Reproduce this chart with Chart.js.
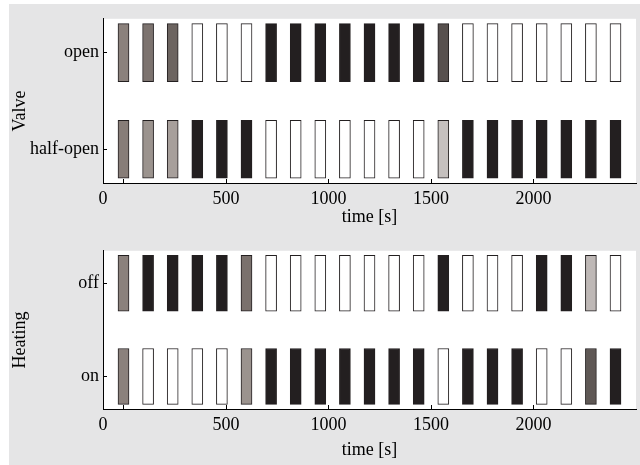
<!DOCTYPE html>
<html>
<head>
<meta charset="utf-8">
<script src="https://cdn.jsdelivr.net/npm/chart.js@4.4.0/dist/chart.umd.min.js"></script>
<style>
  body { margin: 0; background: #fff; }
  #wrap { position: relative; width: 640px; height: 465px; overflow: hidden; }
  #bg { position: absolute; left: 9px; top: 4px; right: 0; bottom: 0; background: #e5e5e6; }
  canvas { position: absolute; left: 0; }
</style>
</head>
<body>
<div id="wrap">
  <div id="bg"></div>
  <canvas id="valveChart" width="640" height="232" style="top:0"></canvas>
  <canvas id="heatingChart" width="640" height="233" style="top:232px"></canvas>
</div>
<script>
// Sample times of the bars [s]
const times = [0, 120, 240, 360, 480, 600, 720, 840, 960, 1080, 1200,
               1320, 1440, 1560, 1680, 1800, 1920, 2040, 2160, 2280, 2400];

// Shade of each bar (0 = white, 1 = black)
const valveOpen = [0.5, 0.57, 0.65, 0, 0, 0, 1, 1, 1, 1, 1, 1, 1, 0.75, 0, 0, 0, 0, 0, 0, 0];
const valveHalf = [0.52, 0.43, 0.38, 1, 1, 1, 0, 0, 0, 0, 0, 0, 0, 0.25, 1, 1, 1, 1, 1, 1, 1];
const heatOff = [0.5, 1, 1, 1, 1, 0.58, 0, 0, 0, 0, 0, 0, 0, 1, 0, 0, 0, 1, 1, 0.28, 0];
const heatOn = [0.5, 0, 0, 0, 0, 0.43, 1, 1, 1, 1, 1, 1, 1, 0, 1, 1, 1, 0, 0, 0.71, 1];

const valveStates = ['half-open', 'open'];
const heatingStates = ['on', 'off'];

const xTicks = [-100, 0, 500, 1000, 1500, 2000];
const xTickLabels = ['0', '', '500', '1000', '1500', '2000'];

Chart.defaults.font.family = '"Liberation Serif", "Times New Roman", serif';
Chart.defaults.font.size = 18;
Chart.defaults.color = '#000';

const HALF = 0.3; // half height of a bar, in state units

// white plot area
const plotBg = {
    id: 'plotBg',
    beforeDraw(chart) {
        const { ctx, chartArea: a } = chart;
        ctx.save();
        ctx.fillStyle = '#fff';
        ctx.fillRect(a.left, a.top, a.right - a.left, a.bottom - a.top);
        ctx.restore();
    }
};

// y axis name, sitting a bit below the middle of the plot like in the original
const sideTitle = {
    id: 'sideTitle',
    afterDraw(chart, args, opts) {
        const { ctx, chartArea: a } = chart;
        const y = chart.scales.y;
        ctx.save();
        ctx.translate(y.left + 11, (a.top + a.bottom) / 2 + 10);
        ctx.rotate(-Math.PI / 2);
        ctx.font = '18px "Liberation Serif", "Times New Roman", serif';
        ctx.fillStyle = '#000';
        ctx.textAlign = 'center';
        ctx.textBaseline = 'middle';
        ctx.fillText(opts.text, 0, 0);
        ctx.restore();
    }
};

// white -> warm grey -> near black
function shade(p) {
    const a = [255, 255, 255], m = [139, 129, 124], b = [35, 31, 32];
    let c;
    if (p <= 0.5) {
        const t = p / 0.5;
        c = a.map((v, i) => Math.round(v + (m[i] - v) * t));
    } else {
        const t = (p - 0.5) / 0.5;
        c = m.map((v, i) => Math.round(v + (b[i] - v) * t));
    }
    return `rgb(${c[0]}, ${c[1]}, ${c[2]})`;
}

function rowDataset(values, level) {
    return {
        data: times.map(t => ({ x: t, y: [level - HALF, level + HALF] })),
        backgroundColor: values.map(shade),
        borderColor: '#231f20',
        borderWidth: 1,
        borderSkipped: false,
        barThickness: 11,
        grouped: false
    };
}

function makeChart(id, title, states, rows, padTop, axisHeight, titlePad) {
    return new Chart(document.getElementById(id), {
        type: 'bar',
        data: {
            datasets: rows.map((vals, level) => rowDataset(vals, level))
        },
        plugins: [plotBg, sideTitle],
        options: {
            responsive: false,
            animation: false,
            layout: { padding: { left: 9, right: 4, top: padTop, bottom: 0 } },
            plugins: {
                legend: { display: false },
                tooltip: { enabled: false },
                sideTitle: { text: title }
            },
            scales: {
                x: {
                    type: 'linear',
                    offset: false,
                    min: -100,
                    max: 2500,
                    afterBuildTicks: axis => { axis.ticks = xTicks.map(v => ({ value: v })); },
                    afterFit: axis => { axis.height = axisHeight; },
                    ticks: {
                        autoSkip: false,
                        maxRotation: 0,
                        padding: 9,
                        callback: (v) => xTickLabels[xTicks.indexOf(v)]
                    },
                    grid: { offset: false, drawOnChartArea: false, tickLength: -4, tickColor: '#000', tickWidth: 1 },
                    border: { display: true, color: '#000', width: 1 },
                    title: { display: true, text: 'time [s]', padding: { top: 0, bottom: titlePad } }
                },
                y: {
                    type: 'linear',
                    min: -0.35,
                    max: 1.35,
                    afterBuildTicks: axis => { axis.ticks = states.map((s, i) => ({ value: i })); },
                    afterFit: axis => { axis.width = 94; },
                    ticks: {
                        autoSkip: false,
                        padding: 8,
                        callback: (v) => states[v]
                    },
                    grid: { drawOnChartArea: false, tickLength: -4, tickColor: '#000', tickWidth: 1 },
                    border: { display: true, color: '#000', width: 1 }
                }
            }
        }
    });
}

makeChart('valveChart', 'Valve', valveStates, [valveHalf, valveOpen], 18, 49, 3.6);
makeChart('heatingChart', 'Heating', heatingStates, [heatOn, heatOff], 13, 56, 4);
</script>
</body>
</html>
